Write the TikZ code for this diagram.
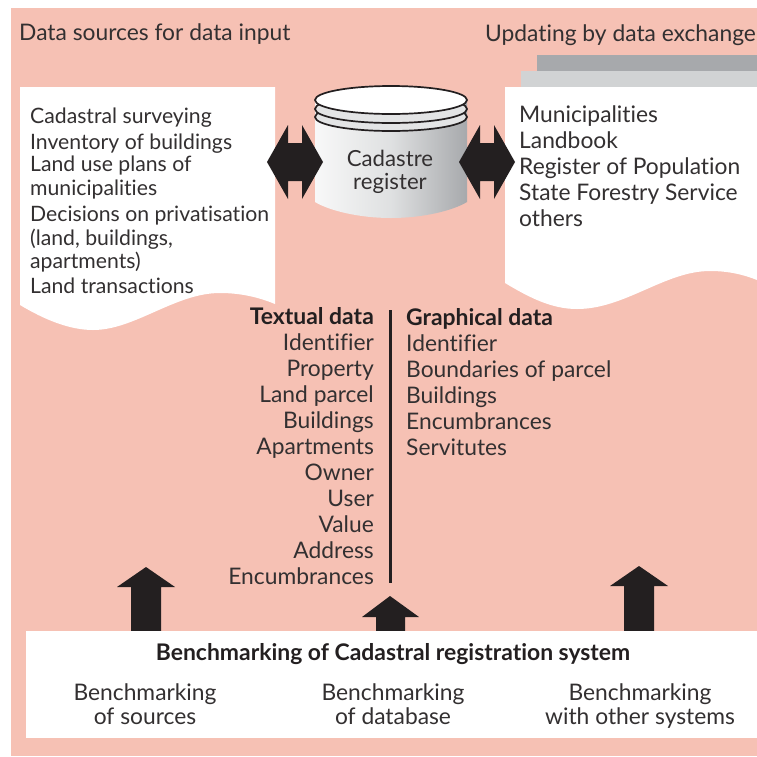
\documentclass[tikz,border=0pt]{standalone}
\usepackage{fontspec}
\setmainfont[Ligatures=NoCommon]{Lato}
\definecolor{pinkbg}{HTML}{F6C1B4}
\definecolor{ink}{HTML}{231F20}
\definecolor{txt}{HTML}{333031}
\definecolor{greyA}{HTML}{A7A9AC}
\definecolor{greyB}{HTML}{D1D3D4}
\newcommand{\szmain}{\fontsize{22.8pt}{25pt}\selectfont}
\newcommand{\szsmall}{\fontsize{21.2pt}{24pt}\selectfont}
\newcommand{\szcyl}{\fontsize{22.2pt}{24pt}\selectfont}
\tikzset{
  lbl/.style={font=\szmain,text=txt,inner sep=0pt,anchor=base west},
  lbls/.style={lbl,font=\szsmall},
  lblr/.style={lbl,anchor=base east},
  lblc/.style={lbl,anchor=base},
  lblb/.style={font=\fontsize{22.9pt}{25pt}\selectfont\bfseries,text=ink,inner sep=0pt},
  blockarrow/.style={fill=ink,draw=none},
  ring/.style={draw=ink,line width=1.7pt}
}
\begin{document}
\begin{tikzpicture}[x=1pt,y=-1pt]
\useasboundingbox (0,0) rectangle (757,756);
\fill[pinkbg] (11,8) rectangle (757,756);
% stacked sheets
\fill[greyA] (537,55) rectangle (757,71);
\fill[greyB] (521,71) rectangle (757,87);
% documents
\fill[white] (20,87) -- (275,87) -- (275,304) .. controls (258,297) and (240,293) .. (220,293)
  .. controls (175,293) and (135,330) .. (93,330) .. controls (70,330) and (45,320) .. (20,305) -- cycle;
\fill[white] (505,87) -- (757,87) -- (757,280) .. controls (742,274) and (727,271) .. (710,271)
  .. controls (665,271) and (625,309) .. (577,309) .. controls (552,309) and (530,298) .. (505,283) -- cycle;
% cylinder
\shade[left color=white!92!greyA,right color=greyA,middle color=greyB!70!white]
  (315,100) -- (315,202) .. controls (330,211) and (360,218) .. (391,218)
  .. controls (422,218) and (452,211) .. (467,202) -- (467,100) -- cycle;
\foreach \dy in {17,9}{
  \fill[greyB!60!white] (391,100+\dy) ellipse [x radius=76,y radius=14];
  \draw[ring] (391,100+\dy) ellipse [x radius=76,y radius=14];
}
\filldraw[ring,fill=white] (391,100) ellipse [x radius=76,y radius=14];
% double arrows
\fill[blockarrow] (267,162) -- (288,125) -- (288,143) -- (302,143) -- (302,125) -- (323,162)
  -- (302,199) -- (302,181) -- (288,181) -- (288,199) -- cycle;
\fill[blockarrow] (459,162) -- (480,125) -- (480,143) -- (494,143) -- (494,125) -- (515,162)
  -- (494,199) -- (494,181) -- (480,181) -- (480,199) -- cycle;
% up arrows
\fill[blockarrow] (146,567) -- (175,587) -- (161,587) -- (161,631) -- (131,631) -- (131,587) -- (117,587) -- cycle;
\fill[blockarrow] (390,596) -- (419,617) -- (405,617) -- (405,631) -- (376,631) -- (376,617) -- (362,617) -- cycle;
\fill[blockarrow] (639,566) -- (668,586) -- (654,586) -- (654,631) -- (624,631) -- (624,586) -- (610,586) -- cycle;
% divider
\draw[ink,line width=2.8pt] (390.5,310) -- (390.5,583);
% bottom box
\fill[white] (26,631) rectangle (757,738);
% headings
\node[lbl] (h1) at (19,40) {Data sources for data input};
\node[lbl] (h2) at (485,41) {Updating by data exchange};
% left list
\node[lbls] (l1) at (30,123) {Cadastral surveying};
\node[lbls] (l2) at (30,149) {Inventory of buildings};
\node[lbls] (l3) at (30,171) {Land use plans of};
\node[lbls] (l4) at (30,195) {municipalities};
\node[lbls] (l5) at (30,221) {Decisions on privatisation};
\node[lbls] (l6) at (30,245) {(land, buildings,};
\node[lbls] (l7) at (30,268) {apartments)};
\node[lbls] (l8) at (30,293) {Land transactions};
% right list
\node[lbl] (r1) at (519,122) {Municipalities};
\node[lbl] (r2) at (519,148) {Landbook};
\node[lbl] (r3) at (519,174) {Register of Population};
\node[lbl] (r4) at (519,200) {State Forestry Service};
\node[lbl] (r5) at (519,226) {others};
% cylinder label
\node[lblc,font=\szcyl] (c1) at (390,166) {Cadastre};
\node[lblc,font=\szcyl] (c2) at (390,189) {register};
% textual
\node[lblb,anchor=base east] (t0) at (374,324) {Textual data};
\node[lblr] (t1) at (374,350) {Identifier};
\node[lblr] (t2) at (374,376) {Property};
\node[lblr] (t3) at (374,402) {Land parcel};
\node[lblr] (t4) at (374,428) {Buildings};
\node[lblr] (t5) at (374,454) {Apartments};
\node[lblr] (t6) at (374,480) {Owner};
\node[lblr] (t7) at (374,506) {User};
\node[lblr] (t8) at (374,532) {Value};
\node[lblr] (t9) at (374,558) {Address};
\node[lblr] (t10) at (374,584) {Encumbrances};
% graphical
\node[lblb,anchor=base west] (g0) at (406,325) {Graphical data};
\node[lbl] (g1) at (406,351) {Identifier};
\node[lbl] (g2) at (406,377) {Boundaries of parcel};
\node[lbl] (g3) at (406,403) {Buildings};
\node[lbl] (g4) at (406,429) {Encumbrances};
\node[lbl] (g5) at (406,455) {Servitutes};
% bottom text
\node[lblb,anchor=base] (b0) at (393,660) {Benchmarking of Cadastral registration system};
\node[lblc] (b1) at (145,700) {Benchmarking};
\node[lblc] (b1b) at (145,724) {of sources};
\node[lblc] (b2) at (393,700) {Benchmarking};
\node[lblc] (b2b) at (393,724) {of database};
\node[lblc] (b3) at (640,700) {Benchmarking};
\node[lblc] (b3b) at (640,724) {with other systems};
\end{tikzpicture}
\end{document}
